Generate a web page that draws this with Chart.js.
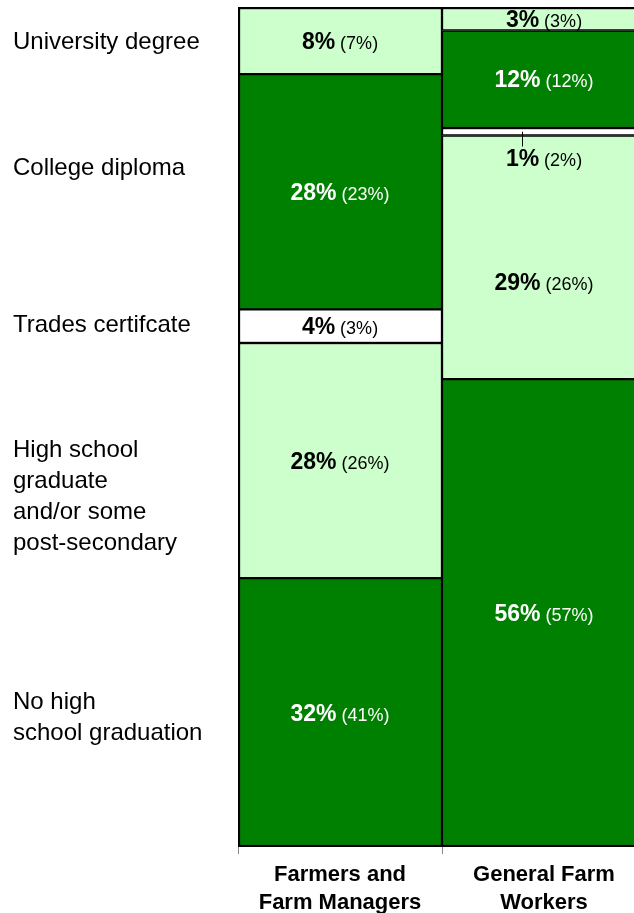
<!DOCTYPE html>
<html>
<head>
<meta charset="utf-8">
<script src="https://cdn.jsdelivr.net/npm/chart.js@4/dist/chart.umd.min.js"></script>
<style>
  html, body { margin: 0; padding: 0; background: #fff; overflow: hidden; width: 634px; height: 913px; }
  #wrap { width: 646px; height: 913px; }
  canvas { display: block; }
</style>
</head>
<body>
<div id="wrap"><canvas id="c" width="646" height="913"></canvas></div>
<script>
// Categories (x axis)
const categories = [["Farmers and", "Farm Managers"], ["General Farm", "Workers"]];
// Education levels, bottom to top
const levels = ["No high school graduation", "High school graduate and/or some post-secondary",
                "Trades certifcate", "College diploma", "University degree"];
const levelLines = [["No high", "school graduation"], ["High school", "graduate", "and/or some", "post-secondary"],
                    ["Trades certifcate"], ["College diploma"], ["University degree"]];
// Bar heights (percent), bottom to top
const farmersValues = [32, 28, 4, 28, 8];
const workersValues = [55.7, 29, 0.9, 11.6, 2.8];
// Printed labels: main value and value in brackets
const farmersLabels = [32, 28, 4, 28, 8];
const farmersBracket = [41, 26, 3, 23, 7];
const workersLabels = [56, 29, 1, 12, 3];
const workersBracket = [57, 26, 2, 12, 3];

const DARK = '#008000', LIGHT = '#CCFFCC', WHITE = '#FFFFFF';
const levelColors = [DARK, LIGHT, WHITE, DARK, LIGHT];
const FONT = '"Liberation Sans", Arial, Helvetica, sans-serif';

const datasets = levels.map((name, k) => ({
  label: name,
  data: [farmersValues[k], workersValues[k]],
  backgroundColor: levelColors[k],
  borderColor: '#000',
  borderSkipped: false,
  borderWidth: (c) => ({
    left: c.dataIndex === 0 ? 2.5 : 1.5,
    right: c.dataIndex === 1 ? 2.5 : 1.5,
    top: k === levels.length - 1 ? 2.5 : 1.5,
    bottom: k === 0 ? 2.5 : 1.5
  }),
  barPercentage: 1.0,
  categoryPercentage: 1.0
}));

const labelPlugin = {
  id: 'labelPlugin',
  afterDatasetsDraw(chart) {
    const ctx = chart.ctx;
    ctx.save();
    // Left-side level names
    const leftCenters = [717.5, 497, 325, 168, 42];
    ctx.fillStyle = '#000';
    ctx.font = '24px ' + FONT;
    ctx.textAlign = 'left';
    ctx.textBaseline = 'middle';
    levelLines.forEach((lines, k) => {
      const lh = 31;
      const y0 = leftCenters[k] - (lines.length - 1) * lh / 2;
      lines.forEach((t, j) => ctx.fillText(t, 13, y0 + j * lh));
    });
    // Value labels in bars
    const mains = [farmersLabels, workersLabels];
    const brs = [farmersBracket, workersBracket];
    chart.data.datasets.forEach((ds, d) => {
      const meta = chart.getDatasetMeta(d);
      meta.data.forEach((bar, i) => {
        const cx = bar.x;
        let cy = (bar.y + bar.base) / 2;
        const t1 = mains[i][d] + '%';
        const t2 = ' (' + brs[i][d] + '%)';
        let leader = false;
        if (i === 1 && d === 2) { cy = Math.max(bar.y, bar.base) + 22; leader = true; }
        if (i === 1 && d === 1) { cy += 25; }
        ctx.font = 'bold 23px ' + FONT;
        const w1 = ctx.measureText(t1).width;
        ctx.font = '18px ' + FONT;
        const w2 = ctx.measureText(t2).width;
        const x0 = cx - (w1 + w2) / 2;
        const col = (levelColors[d] === DARK) ? '#fff' : '#000';
        ctx.fillStyle = col;
        ctx.textAlign = 'left';
        ctx.textBaseline = 'alphabetic';
        ctx.font = 'bold 23px ' + FONT;
        ctx.fillText(t1, x0, cy + 8);
        ctx.font = '18px ' + FONT;
        ctx.fillText(t2, x0 + w1, cy + 8);
        if (leader) {
          const lx = Math.round(x0 + w1 / 2) + 0.5;
          ctx.strokeStyle = '#000';
          ctx.lineWidth = 1;
          ctx.beginPath();
          ctx.moveTo(lx, (bar.y + bar.base) / 2);
          ctx.lineTo(lx, cy - 11);
          ctx.stroke();
        }
      });
    });
    ctx.restore();
  }
};

new Chart(document.getElementById('c'), {
  type: 'bar',
  data: { labels: categories, datasets },
  options: {
    responsive: false,
    animation: false,
    layout: { padding: { left: 238, top: 7, right: 0, bottom: 0 } },
    plugins: { legend: { display: false }, tooltip: { enabled: false } },
    scales: {
      x: {
        stacked: true,
        offset: true,
        grid: { offset: true, drawOnChartArea: false, drawTicks: true, tickLength: 7, color: '#888' },
        border: { display: false },
        ticks: { color: '#000', font: { family: FONT, size: 22, weight: 'bold', lineHeight: 1.27 }, padding: 7, maxRotation: 0, autoSkip: false },
        afterFit(scale) { scale.height = 66; }
      },
      y: {
        stacked: true,
        display: false,
        min: 0,
        max: 100
      }
    }
  },
  plugins: [labelPlugin]
});
</script>
</body>
</html>
